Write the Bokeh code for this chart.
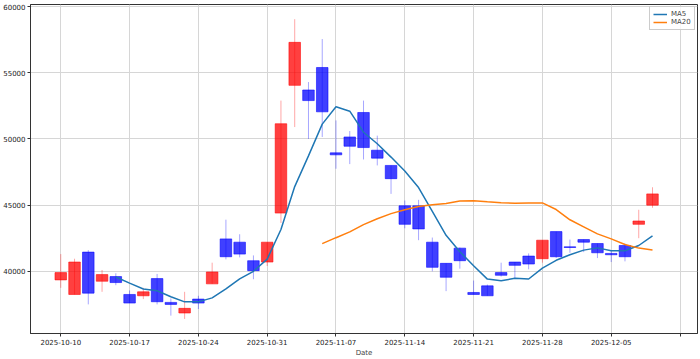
import numpy as np
import pandas as pd
from bokeh.plotting import figure
from bokeh.models import ColumnDataSource, FixedTicker, Legend, LegendItem, Range1d
from bokeh.embed import file_html
from bokeh.resources import INLINE

# OHLC values (one per trading day, evenly spaced)
opens  = [39350, 38250, 41450, 39250, 39600, 38250, 38150, 39450, 37650, 36850,
          37900, 39050, 42450, 42200, 40800, 40700, 44400, 54050, 53700, 55400,
          48950, 50150, 52000, 49150, 48000, 44950, 44950, 42200, 40600, 41750,
          38400, 38900, 39900, 40700, 41150, 40950, 43000, 41850, 42400, 42100,
          41350, 41950, 43550, 45000]
closes = [39900, 40700, 38350, 39750, 39150, 37600, 38450, 37700, 37500, 37200,
          37600, 39950, 41100, 41300, 40050, 42200, 51150, 57300, 52900, 52050,
          48800, 49450, 49350, 48550, 47000, 43550, 43200, 40300, 39550, 40800,
          38250, 38150, 39700, 40450, 40550, 42350, 41100, 41800, 42200, 41400,
          41250, 41100, 43800, 45850]
highs  = [41300, 40950, 41600, 40100, 39850, 38550, 38750, 39800, 37950, 38450,
          38150, 40650, 43900, 42800, 41200, 42200, 52900, 59050, 54300, 57550,
          51400, 50600, 52900, 50250, 48000, 45350, 45400, 42550, 40600, 41800,
          39300, 39000, 40650, 40700, 41350, 42350, 43000, 42400, 42400, 42100,
          41550, 42100, 44650, 46350]
lows   = [38750, 38250, 37500, 38450, 38950, 37600, 37900, 37500, 36650, 36400,
          37150, 39050, 40900, 41050, 39400, 40400, 43650, 50900, 50000, 50150,
          47750, 48100, 48450, 48000, 45850, 43250, 42350, 40000, 38500, 40200,
          38250, 38150, 39600, 39450, 40150, 40650, 41000, 41400, 41450, 41000,
          40700, 40750, 42500, 44800]
tick_labels = ["2025-10-10", "2025-10-17", "2025-10-24", "2025-10-31", "2025-11-07",
               "2025-11-14", "2025-11-21", "2025-11-28", "2025-12-05", ""]

n = len(opens)
idx = np.arange(n)
o = np.array(opens, float); c = np.array(closes, float)
h = np.array(highs, float); l = np.array(lows, float)
up = c >= o
colors = np.where(up, "#ff0000", "#0000ff")
src = ColumnDataSource(dict(x=idx, top=np.maximum(o, c), bottom=np.minimum(o, c),
                            high=h, low=l, color=colors))

cs = pd.Series(c)
ma5 = cs.rolling(5).mean()
ma20 = cs.rolling(20).mean()

FONT = "DejaVu Sans"
p = figure(width=700, height=359, output_backend="svg", toolbar_location=None,
           x_range=Range1d(-2.2, 46.27), y_range=Range1d(35300, 60160),
           min_border_left=2, min_border_right=3, min_border_top=4, min_border_bottom=2)

p.segment(x0="x", y0="low", x1="x", y1="high", source=src, line_color="color",
          line_alpha=0.35, line_width=1)
p.vbar(x="x", top="top", bottom="bottom", width=0.84, source=src,
       fill_color="color", fill_alpha=0.75, line_color="color", line_alpha=0.55, line_width=1)

l5 = p.line(idx[4:], ma5.values[4:], line_color="#1f77b4", line_width=1.5)
l20 = p.line(idx[19:], ma20.values[19:], line_color="#ff7f0e", line_width=1.5)

legend = Legend(items=[LegendItem(label="MA5", renderers=[l5]),
                       LegendItem(label="MA20", renderers=[l20])],
                location="top_right", label_text_font=FONT, label_text_font_size="7px",
                glyph_width=14, glyph_height=8, spacing=0, padding=3, margin=2,
                label_standoff=4, label_height=8,
                border_line_color="#cccccc", border_line_alpha=1.0,
                background_fill_alpha=0.8)
p.add_layout(legend)

p.xaxis.ticker = FixedTicker(ticks=list(range(0, 50, 5)))
p.xaxis.major_label_overrides = {i * 5: t for i, t in enumerate(tick_labels)}
p.yaxis.ticker = FixedTicker(ticks=[40000, 45000, 50000, 55000, 60000])
p.xaxis.axis_label = "Date"

for ax in (p.xaxis, p.yaxis):
    ax.major_label_text_font = FONT
    ax.major_label_text_font_size = "7px"
    ax.major_label_text_color = "#222222"
    ax.major_tick_out = 3
    ax.major_tick_in = 0
    ax.minor_tick_out = 0
    ax.minor_tick_in = 0
    ax.axis_line_color = "#333333"
    ax.major_tick_line_color = "#333333"
    ax.major_label_standoff = 2
p.xaxis.axis_label_text_font = FONT
p.xaxis.axis_label_text_font_size = "7px"
p.xaxis.axis_label_text_font_style = "normal"
p.xaxis.axis_label_standoff = 1
p.yaxis.formatter.use_scientific = False

p.grid.grid_line_color = "#d6d6d6"
p.grid.grid_line_width = 1
p.outline_line_color = "#333333"
p.outline_line_width = 1
p.background_fill_color = "white"

open("out.html", "w").write(file_html(p, INLINE))
